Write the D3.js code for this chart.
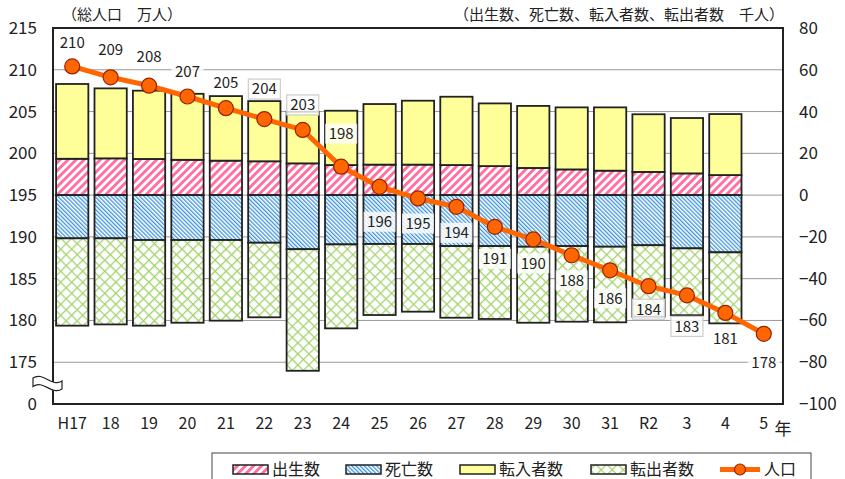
<!DOCTYPE html>
<html><head><meta charset="utf-8">
<script src="https://cdn.jsdelivr.net/npm/d3@7"></script>
<style>
html,body{margin:0;padding:0;background:#fff;}
svg{display:block;font-family:"Noto Sans CJK JP","Noto Sans",sans-serif;}
</style></head>
<body>
<svg id="c" width="845" height="479"></svg>
<script>
// ---- data ----
const years = ["H17","18","19","20","21","22","23","24","25","26","27","28","29","30","31","R2","3","4","5"];
const births =     [17.4,17.6,17.3,16.9,16.5,16.2,15.2,14.4,14.6,14.6,14.4,13.9,13.0,12.3,11.7,11.1,10.4,9.6,null];
const deaths =     [20.7,20.7,21.5,21.5,21.5,22.8,25.9,23.6,23.4,23.4,24.4,24.4,24.7,24.4,24.7,24.0,25.5,27.4,null];
const inMigrants = [35.8,33.5,32.7,31.6,30.9,28.8,24.7,26.0,29.0,30.6,32.7,30.0,29.7,29.7,30.3,27.6,26.5,29.2,null];
const outMigrants= [41.8,41.2,41.0,39.6,38.6,35.7,58.2,40.2,34.0,32.4,34.3,34.9,36.4,36.2,36.2,34.2,32.0,34.0,null];
const population = [210.4,209.1,208.1,206.8,205.4,204.1,202.8,198.4,196.0,194.6,193.6,191.2,189.7,187.8,186.0,184.1,183.0,180.9,178.4];
const leftTicks  = [170,175,180,185,190,195,200,205,210,215];
const leftTickLabels = ["0","175","180","185","190","195","200","205","210","215"];
const rightTicks = [-100,-80,-60,-40,-20,0,20,40,60,80];
const seriesNames = ["出生数","死亡数","転入者数","転出者数","人口"];
const leftTitle = "（総人口　万人）";
const rightTitle = "（出生数、死亡数、転入者数、転出者数　千人）";
const yearUnit = "年";

// ---- layout (not data) ----
const labelDy = [-24,-28,-29,-25,-26,-30,-25,-33,35,25,26,32,24,25,28,23,31,26,29];
const boxedStroke = [5,6,15,16];

const svg = d3.select("#c");
const L = 53, R = 783, T = 28, B = 404;

const x = d3.scaleBand().domain(years).range([L, R]).paddingInner(0.16).paddingOuter(0.08);
const yR = d3.scaleLinear().domain([-100, 80]).range([B, T]);
const yL = d3.scaleLinear().domain([170, 215]).range([B, T]);

// patterns
const defs = svg.append("defs");
const pPink = defs.append("pattern").attr("id","pink").attr("patternUnits","userSpaceOnUse")
  .attr("width",5.7).attr("height",5.7).attr("patternTransform","rotate(45)");
pPink.append("rect").attr("width",5.7).attr("height",5.7).attr("fill","#fff");
pPink.append("rect").attr("width",2.9).attr("height",5.7).attr("fill","#ff6f9f");

const pBlue = defs.append("pattern").attr("id","blue").attr("patternUnits","userSpaceOnUse")
  .attr("width",2.9).attr("height",2.9).attr("patternTransform","rotate(-45)");
pBlue.append("rect").attr("width",2.9).attr("height",2.9).attr("fill","#fff");
pBlue.append("rect").attr("width",1.3).attr("height",2.9).attr("fill","#3d93dc");

const pGreen = defs.append("pattern").attr("id","green").attr("patternUnits","userSpaceOnUse")
  .attr("width",7.8).attr("height",7.8).attr("patternTransform","rotate(45)");
pGreen.append("rect").attr("width",7.8).attr("height",7.8).attr("fill","#fff");
pGreen.append("rect").attr("width",1.3).attr("height",7.8).attr("fill","#a4d46e");
pGreen.append("rect").attr("width",7.8).attr("height",1.3).attr("fill","#a4d46e");

const fills = {births:"url(#pink)", deaths:"url(#blue)", inM:"#ffff99", outM:"url(#green)"};

// gridlines
svg.append("g").selectAll("line").data(rightTicks.filter(d => d > -100 && d < 80)).join("line")
  .attr("x1", L).attr("x2", R).attr("y1", d => yR(d)).attr("y2", d => yR(d))
  .attr("stroke", "#999").attr("stroke-width", 1);

// bars
const segs = [];
years.forEach((yr, i) => {
  if (births[i] == null) return;
  segs.push({yr, y0: 0, y1: births[i], f: fills.births});
  segs.push({yr, y0: births[i], y1: births[i] + inMigrants[i], f: fills.inM});
  segs.push({yr, y0: -deaths[i], y1: 0, f: fills.deaths});
  segs.push({yr, y0: -deaths[i] - outMigrants[i], y1: -deaths[i], f: fills.outM});
});
svg.append("g").selectAll("rect").data(segs).join("rect")
  .attr("x", d => x(d.yr)).attr("width", x.bandwidth())
  .attr("y", d => yR(d.y1)).attr("height", d => yR(d.y0) - yR(d.y1))
  .attr("fill", d => d.f).attr("stroke", "#222").attr("stroke-width", 1.8);

// frame
svg.append("rect").attr("x", L).attr("y", T).attr("width", R - L).attr("height", B - T)
  .attr("fill", "none").attr("stroke", "#222").attr("stroke-width", 2);

// axes (no tick marks)
const axL = d3.axisLeft(yL).tickValues(leftTicks).tickSize(0).tickPadding(16)
  .tickFormat((d, i) => leftTickLabels[i]);
const gL = svg.append("g").attr("transform", `translate(${L},0)`).call(axL);
gL.select(".domain").remove();
gL.selectAll("text").attr("font-size", 17).attr("fill", "#222").attr("font-family", "'Noto Sans CJK JP',sans-serif");

const axR = d3.axisRight(yR).tickValues(rightTicks).tickSize(0).tickPadding(16);
const gR = svg.append("g").attr("transform", `translate(${R},0)`).call(axR);
gR.select(".domain").remove();
gR.selectAll("text").attr("font-size", 17).attr("fill", "#222").attr("font-family", "'Noto Sans CJK JP',sans-serif");

const axB = d3.axisBottom(x).tickSize(0).tickPadding(14);
const gB = svg.append("g").attr("transform", `translate(0,${B})`).call(axB);
gB.select(".domain").remove();
gB.selectAll("text").attr("font-size", 16).attr("fill", "#222").attr("font-family", "'Noto Sans CJK JP',sans-serif");

svg.append("text").attr("x", 783).attr("y", 435).attr("text-anchor", "middle")
  .attr("font-size", 17).attr("fill", "#222").text(yearUnit);

// axis break
svg.append("path")
  .attr("d", "M33,378 C43,371 52,388 62,381 L62,389 C52,396 43,379 33,386.5 Z")
  .attr("fill", "#fff").attr("stroke", "#222").attr("stroke-width", 1.2);

// titles
svg.append("text").attr("x", 62).attr("y", 20).attr("font-size", 15).attr("fill", "#222").text(leftTitle);
svg.append("text").attr("x", 784).attr("y", 20).attr("text-anchor", "end").attr("font-size", 15).attr("fill", "#222").text(rightTitle);

// population line
const cx = d => x(d) + x.bandwidth() / 2;
const line = d3.line().x((d, i) => cx(years[i])).y(d => yL(d));
svg.append("path").datum(population).attr("d", line)
  .attr("fill", "none").attr("stroke", "#ff6600").attr("stroke-width", 5).attr("stroke-linejoin", "round");
svg.append("g").selectAll("circle").data(population).join("circle")
  .attr("cx", (d, i) => cx(years[i])).attr("cy", d => yL(d)).attr("r", 7.5)
  .attr("fill", "#ff6600").attr("stroke", "#992200").attr("stroke-width", 1.2);

// population labels
const fmt = d3.format(".0f");
const lab = svg.append("g").selectAll("g").data(population).join("g")
  .attr("transform", (d, i) => `translate(${cx(years[i])},${yL(d) + labelDy[i]})`);
lab.append("rect").attr("x", -16).attr("y", -10).attr("width", 32).attr("height", 20)
  .attr("fill", "#fff").attr("fill-opacity", 0.8)
  .attr("stroke", (d, i) => boxedStroke.includes(i) ? "#ccc" : "none").attr("stroke-width", 1.2);
lab.append("text").attr("text-anchor", "middle").attr("dy", "0.36em")
  .attr("font-size", 15).attr("fill", "#222").text(d => fmt(d));

// legend
const lg = svg.append("g");
lg.append("rect").attr("x", 212).attr("y", 453).attr("width", 599).attr("height", 32)
  .attr("fill", "#fff").attr("stroke", "#444").attr("stroke-width", 1);
const lgItems = [
  {name: seriesNames[0], f: fills.births, sx: 233, tx: 272},
  {name: seriesNames[1], f: fills.deaths, sx: 346, tx: 385},
  {name: seriesNames[2], f: fills.inM, sx: 460, tx: 499},
  {name: seriesNames[3], f: fills.outM, sx: 591, tx: 630}
];
lgItems.forEach(it => {
  lg.append("rect").attr("x", it.sx).attr("y", 465).attr("width", 35).attr("height", 9)
    .attr("fill", it.f).attr("stroke", "#222").attr("stroke-width", 1.5);
  lg.append("text").attr("x", it.tx).attr("y", 475).attr("font-size", 16).attr("fill", "#222").text(it.name);
});
lg.append("line").attr("x1", 720).attr("x2", 760).attr("y1", 469.5).attr("y2", 469.5)
  .attr("stroke", "#ff6600").attr("stroke-width", 5);
lg.append("circle").attr("cx", 740).attr("cy", 469.5).attr("r", 5.5)
  .attr("fill", "#ff6600").attr("stroke", "#992200").attr("stroke-width", 1.2);
lg.append("text").attr("x", 764).attr("y", 475).attr("font-size", 16).attr("fill", "#222").text(seriesNames[4]);
</script>
</body></html>
